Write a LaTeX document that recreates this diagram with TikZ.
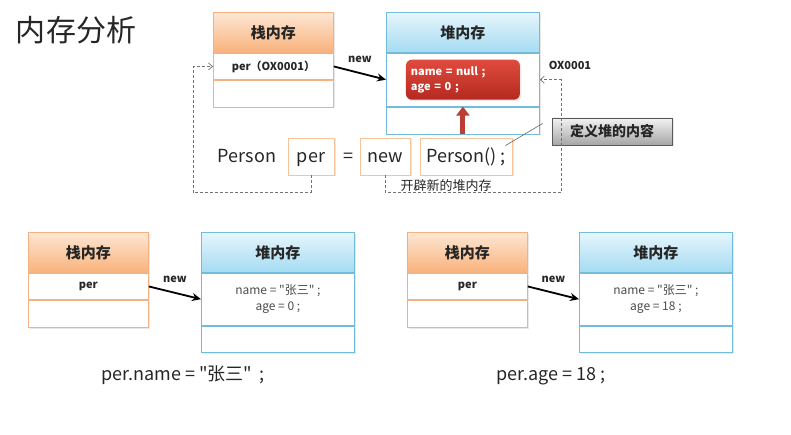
\documentclass[tikz,border=0pt]{standalone}
\usepackage{fontspec}
\setmainfont{Noto Sans CJK SC}[Ligatures=TeXOff]
\usetikzlibrary{arrows.meta, positioning, shadows}

\definecolor{stackline}{HTML}{F4B183}
\definecolor{stacktop}{HTML}{FDE7D4}
\definecolor{stackbot}{HTML}{F9B27C}
\definecolor{heapline}{HTML}{72BBDB}
\definecolor{heaptop}{HTML}{E6F6FC}
\definecolor{heapbot}{HTML}{A5DBF2}
\definecolor{nulltop}{HTML}{E04B3E}
\definecolor{nullbot}{HTML}{B4291F}
\definecolor{codeline}{HTML}{F5C49A}
\definecolor{ink}{HTML}{262626}

\begin{document}
\begin{tikzpicture}[
    x=1pt, y=-1pt,
    % ── Global ──
    node distance=0pt,
    % ── Node Styles ──
    soft/.style={drop shadow={opacity=0.18, shadow xshift=1.5pt, shadow yshift=-1.5pt}},
    stackhead/.style={
        rectangle, anchor=north west, soft,
        minimum width=120pt, minimum height=40pt,
        draw=stackline, line width=0.8pt,
        top color=stacktop, bottom color=stackbot,
        font=\fontsize{15}{18}\selectfont\bfseries, text=ink
    },
    stackrow/.style={
        rectangle, minimum width=120pt, minimum height=26.5pt, soft,
        draw=stackline, line width=0.8pt, fill=white,
        font=\fontsize{11}{13}\selectfont\bfseries, text=ink
    },
    heaphead/.style={
        rectangle, anchor=north west, soft,
        minimum width=153pt, minimum height=40pt,
        draw=heapline, line width=0.8pt,
        top color=heaptop, bottom color=heapbot,
        font=\fontsize{15}{18}\selectfont\bfseries, text=ink
    },
    heaprow/.style={
        rectangle, minimum width=153pt, minimum height=26pt, soft,
        draw=heapline, line width=0.8pt, fill=white,
        align=center, font=\fontsize{12}{16}\selectfont, text=black!70
    },
    nullbox/.style={
        rectangle, rounded corners=6pt, soft,
        minimum width=114pt, minimum height=40pt,
        top color=nulltop, bottom color=nullbot,
        text=white, align=left, text width=104pt,
        font=\fontsize{11}{15}\selectfont\bfseries
    },
    codebox/.style={
        rectangle, minimum height=37pt, inner xsep=4pt, soft,
        draw=codeline, line width=0.8pt, fill=white,
        text height=15pt, text depth=2pt,
        font=\fontsize{18}{22}\selectfont, text=ink
    },
    codetext/.style={font=\fontsize{18}{22}\selectfont, text=ink,
        text height=15pt, text depth=2pt},
    callout/.style={
        rectangle, minimum width=120pt, minimum height=27pt, soft,
        draw=black!65, line width=0.8pt,
        top color=black!5, bottom color=black!35,
        font=\fontsize{14}{17}\selectfont\bfseries, text=ink
    },
    arrow/.style={-{Stealth[length=9pt, width=8pt]}, line width=1.8pt, draw=black},
    refline/.style={densely dashed, line width=0.7pt, draw=black!55,
        -{Straight Barb[length=4pt, width=7pt]}},
    lbl/.style={font=\fontsize{11}{13}\selectfont\bfseries, text=ink},
]

\useasboundingbox (0,0) rectangle (791,435);

% ════════════════════════════════════════════════════════
%  TITLE
% ════════════════════════════════════════════════════════

\node (title) [font=\fontsize{30}{36}\selectfont, text=ink] at (76,30) {内存分析};

% ════════════════════════════════════════════════════════
%  TOP: Person per = new Person();
% ════════════════════════════════════════════════════════

\node (S0) [stackhead] at (213,12) {栈内存};
\node (S0a) [stackrow, below=of S0] {per（OX0001）};
\node (S0b) [stackrow, below=of S0a] {};

\node (H0) [heaphead] at (386,12) {堆内存};
\node (H0a) [heaprow, below=of H0, minimum height=53pt] {};
\node (H0b) [heaprow, below=of H0a, minimum height=27pt] {};
\node (N0) [nullbox] at (H0a) {name = null ;\\age = 0 ;};

\node (addr) [lbl] at (570,65) {OX0001};

\node (kw1) [codetext] at (247,156.5) {Person};
\node (var) [codebox, minimum width=46pt] at (311,156.5) {per};
\node (eq) [codetext] at (348,156.5) {=};
\node (kw2) [codebox, minimum width=50pt] at (385,156.5) {new};
\node (ctor) [codebox, minimum width=92pt] at (466,156.5) {Person() ;};

\node (note) [callout] at (612,131.5) {定义堆的内容};
\node (open) [font=\fontsize{13}{15}\selectfont, text=ink] at (446,186) {开辟新的堆内存};

\coordinate (lcorner) at (193,192.5);
\coordinate (rcorner) at (561,192.5);

\draw [arrow] (S0a.east) -- node[lbl, above=6pt] {new} (H0a.west);
\draw [refline] (var.south) |- (lcorner) |- (S0a.west);
\draw [refline] (kw2.south) |- (rcorner) |- (H0a.east);
\draw [line width=5pt, draw=nullbot!90,
    -{Triangle[length=9pt, width=13pt]}] (H0b.south) -- (H0b.north);
\draw [line width=0.6pt, draw=black!60]
    ([xshift=-7pt, yshift=-8pt]ctor.north east) -- ([xshift=-9pt, yshift=8pt]note.west);

% ════════════════════════════════════════════════════════
%  BOTTOM LEFT: per.name = "张三" ;
% ════════════════════════════════════════════════════════

\node (S1) [stackhead] at (28,232) {栈内存};
\node (S1a) [stackrow] [below=of S1] {per};
\node (S1b) [stackrow, below=of S1a] {};

\node (H1) [heaphead] at (201,232) {堆内存};
\node (H1a) [heaprow, below=of H1, minimum height=52pt] {name = "张三" ;\\age = 0 ;};
\node (H1b) [heaprow, below=of H1a] {};

\node (L1) [codetext] at (183,374) {per.name = "张三" \,;};

\draw [arrow] (S1a.east) -- node[lbl, above=6pt] {new} (H1a.west);

% ════════════════════════════════════════════════════════
%  BOTTOM RIGHT: per.age = 18 ;
% ════════════════════════════════════════════════════════

\node (S2) [stackhead] at (407,232) {栈内存};
\node (S2a) [stackrow, below=of S2] {per};
\node (S2b) [stackrow, below=of S2a] {};

\node (H2) [heaphead] at (579,232) {堆内存};
\node (H2a) [heaprow, below=of H2, minimum height=52pt] {name = "张三" ;\\age = 18 ;};
\node (H2b) [heaprow, below=of H2a] {};

\node (L2) [codetext] at (551,374) {per.age = 18 ;};

\draw [arrow] (S2a.east) -- node[lbl, above=6pt] {new} (H2a.west);

\end{tikzpicture}
\end{document}
